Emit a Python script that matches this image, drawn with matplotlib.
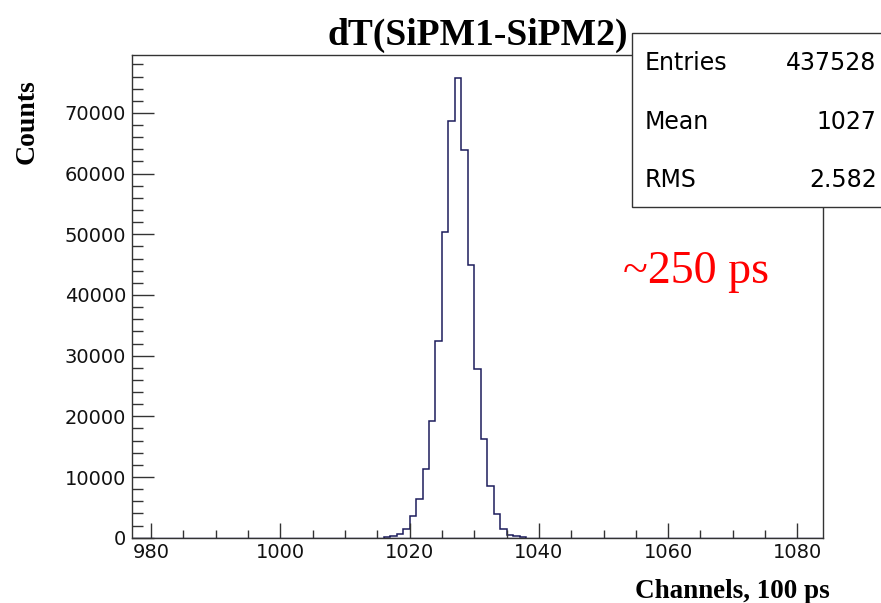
import numpy as np
import matplotlib
matplotlib.use("Agg")
import matplotlib.pyplot as plt
from matplotlib.patches import Rectangle
from matplotlib.ticker import MultipleLocator

# histogram of dT between the two SiPMs, 1 channel per bin
bin_edges = np.arange(1016, 1039)
counts = [80, 230, 600, 1500, 3560, 6400, 11350, 19200, 32380, 50330, 68620,
          75760, 63950, 45010, 27820, 16290, 8490, 3900, 1370, 510, 200, 70]

x_range = (977, 1084)
y_max = 79550
x_ticks = [980, 1000, 1020, 1040, 1060, 1080]
y_ticks = [0, 10000, 20000, 30000, 40000, 50000, 60000, 70000]

stat_names = ["Entries", "Mean", "RMS"]
stat_values = ["437528", "1027", "2.582"]

serif = ["Liberation Serif", "DejaVu Serif"]
sans = ["DejaVu Sans"]

fig = plt.figure(figsize=(8.81, 6.03), dpi=100)
ax = fig.add_axes([0.1495, 0.1083, 0.785, 0.8005])

ax.stairs(counts, bin_edges, color="#1c1c5c", linewidth=1.1)
ax.plot(x_range, [0, 0], color="#1c1c5c", linewidth=1.0)

ax.set_xlim(*x_range)
ax.set_ylim(0, y_max)
ax.set_xticks(x_ticks)
ax.set_yticks(y_ticks)
ax.xaxis.set_minor_locator(MultipleLocator(5))
ax.yaxis.set_minor_locator(MultipleLocator(2000))
ax.tick_params(which="both", direction="in", color="#333333", width=1.0)
ax.tick_params(axis="x", which="major", length=10.5, pad=4)
ax.tick_params(axis="x", which="minor", length=5.5)
ax.tick_params(axis="y", which="major", length=16, pad=4)
ax.tick_params(axis="y", which="minor", length=8)
for lbl in ax.get_xticklabels() + ax.get_yticklabels():
    lbl.set_family(sans)
    lbl.set_fontsize(14)
    lbl.set_color("#111111")
for s in ax.spines.values():
    s.set_color("#333333")
    s.set_linewidth(1.0)

# title, axis titles
fig.text(0.5418, 0.9254, "dT(SiPM1-SiPM2)", family=serif, weight="bold",
         fontsize=27, ha="center", va="baseline")
fig.text(0.9413, 0.0088, "Channels, 100 ps", family=serif, weight="bold",
         fontsize=19.5, ha="right", va="baseline")
fig.text(0.0306, 0.7977, "Counts", family=serif, weight="bold",
         fontsize=20, rotation=90, ha="center", va="center")

# stats box
box = Rectangle((0.7177, 0.6562), 0.30, 0.2886, transform=fig.transFigure,
                facecolor="white", edgecolor="#333333", linewidth=1.0)
fig.patches.append(box)
row_y = [0.895, 0.798, 0.7015]
for name, val, yy in zip(stat_names, stat_values, row_y):
    fig.text(0.732, yy, name, family=sans, fontsize=17, ha="left", va="center")
    fig.text(0.995, yy, val, family=sans, fontsize=17, ha="right", va="center")

fig.text(0.707, 0.5307, "~250 ps", family=serif, fontsize=33, color="#ff0000",
         ha="left", va="baseline")

fig.savefig("out.png", dpi=100)
